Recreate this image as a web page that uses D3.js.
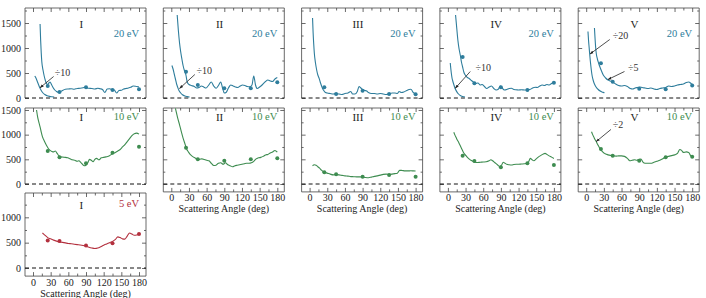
<!DOCTYPE html>
<html><head><meta charset="utf-8">
<script src="https://cdn.jsdelivr.net/npm/d3@7"></script>
<style>
body{margin:0;background:#fff}
svg{display:block}
</style>
</head><body>
<svg id="c" width="706" height="298"></svg>
<script>
// ---------------- DATA (angle in deg, cross section) ----------------
const xTickLabels = [0,30,60,90,120,150,180];
const xMinorTicks = [15,45,75,105,135,165];
const yTickLabels = [0,500,1000,1500];
const yMinorTicks = [250,750,1250,1750];

// 20 eV
const I20_curve = [[12,1480],[13,1150],[14,900],[15,720],[17,560],[19,440],[21,350],[23,290],[25,270],[27,300],[29,320],[31,280],[34,210],[37,160],[40,130],[43,115],[46,120],[50,150],[55,175],[60,180],[65,185],[70,175],[75,190],[80,195],[85,205],[88,215],[91,200],[95,195],[100,190],[105,180],[110,195],[114,185],[118,170],[122,110],[126,180],[130,185],[134,170],[138,160],[142,100],[146,150],[150,155],[154,180],[158,190],[162,200],[166,215],[170,240],[174,235],[178,225],[180,220]];
const I20_div10 = [[3,440],[5,400],[7,340],[9,280],[11,220],[13,170],[15,130],[17,100],[20,70],[24,45],[28,32],[32,25],[36,20]];
const I20_pts = [[25,240],[45,120],[90,213],[135,160],[180,173]];

const II20_curve = [[10,1660],[12,1350],[14,1100],[16,920],[18,780],[20,650],[22,560],[24,500],[25,450],[27,320],[30,270],[34,250],[39,230],[43,200],[47,210],[51,240],[55,220],[59,200],[63,250],[68,320],[72,240],[76,195],[80,250],[84,320],[87,200],[90,100],[93,110],[97,200],[101,260],[105,240],[109,220],[113,210],[117,240],[121,260],[125,250],[129,230],[133,225],[137,260],[140,440],[143,260],[146,190],[150,220],[155,270],[160,330],[164,360],[168,340],[172,330],[176,380],[180,410]];
const II20_div10 = [[1,650],[3,580],[5,480],[7,380],[9,280],[11,210],[13,150],[16,100],[19,65],[23,40],[27,28],[31,20]];
const II20_pts = [[25,527],[45,260],[90,193],[135,193],[180,313]];

const III20_curve = [[5,1600],[6,1300],[7,1080],[8,900],[10,700],[12,560],[14,460],[16,400],[18,320],[20,250],[22,190],[24,150],[27,110],[30,100],[35,90],[40,80],[45,85],[50,80],[55,70],[60,90],[65,100],[70,130],[73,80],[77,80],[81,130],[84,230],[87,200],[91,160],[94,150],[97,140],[100,110],[105,90],[110,90],[115,80],[120,90],[125,80],[130,70],[135,80],[140,100],[145,100],[149,90],[152,130],[156,110],[160,120],[165,150],[169,170],[172,175],[176,110],[180,80]];
const III20_pts = [[25,213],[45,80],[90,147],[135,80],[180,73]];

const IV20_curve = [[13,1660],[15,1400],[17,1150],[19,980],[21,860],[23,720],[25,620],[27,520],[30,450],[33,410],[36,390],[40,350],[43,320],[47,290],[51,300],[55,260],[58,270],[62,230],[66,190],[70,220],[74,240],[78,190],[82,160],[86,180],[89,240],[92,200],[96,160],[100,170],[104,190],[108,195],[112,170],[116,165],[120,160],[125,165],[130,160],[135,160],[140,175],[144,200],[148,215],[152,210],[156,240],[160,260],[164,250],[168,270],[172,260],[176,290],[180,310]];
const IV20_div10 = [[4,700],[5,580],[6,480],[7,400],[8,350],[10,270],[12,200],[15,127],[18,80],[21,50],[25,30],[29,20]];
const IV20_pts = [[25,820],[45,293],[90,213],[135,160],[180,307]];

const V20_div5 = [[14,1400],[15,1200],[16,1020],[17,900],[19,780],[21,700],[23,630],[26,540],[29,460],[33,400],[37,360],[41,340],[45,320],[50,280],[55,250],[60,240],[65,250],[70,230],[75,190],[79,180],[83,200],[87,210],[91,220],[95,210],[100,200],[105,190],[110,200],[115,180],[120,170],[125,190],[130,200],[135,210],[140,240],[145,230],[150,240],[155,260],[160,270],[165,280],[170,310],[174,320],[178,290],[180,270]];
const V20_div20 = [[3,1330],[4,1150],[5,1010],[6,870],[7,740],[8,630],[9,530],[10,450],[11.5,370],[13,310],[15,255],[17,215],[20,175],[23,145],[26,127],[29,113],[31,107]];
const V20_pts = [[25,693],[45,327],[90,187],[135,173],[180,250]];

// 10 eV
const I10_curve = [[6,1500],[8,1350],[10,1250],[12,1160],[14,1050],[16,960],[18,900],[20,850],[23,780],[26,720],[29,680],[32,660],[35,650],[38,670],[41,620],[44,570],[47,550],[51,545],[55,540],[59,530],[63,510],[67,490],[71,480],[75,460],[78,470],[81,440],[84,400],[87,370],[90,380],[93,430],[96,500],[99,480],[102,450],[105,500],[108,520],[112,490],[116,530],[120,540],[124,550],[128,560],[132,590],[136,620],[140,640],[144,670],[148,700],[152,750],[156,800],[160,860],[164,920],[168,980],[172,1020],[176,1030],[180,1010]];
const I10_pts = [[25,670],[45,540],[90,420],[135,635],[180,756]];

const II10_curve = [[7,1530],[9,1430],[11,1330],[14,1200],[17,1060],[20,930],[23,820],[26,710],[29,650],[32,600],[36,560],[40,530],[44,505],[48,500],[52,510],[56,495],[60,480],[64,470],[68,420],[72,375],[76,380],[80,420],[84,430],[88,400],[92,430],[96,390],[100,370],[104,350],[108,370],[112,380],[116,390],[120,400],[124,410],[128,420],[132,420],[136,430],[140,460],[144,510],[148,530],[152,540],[156,560],[160,590],[164,600],[168,630],[172,650],[176,680],[180,645]];
const II10_pts = [[25,736],[45,500],[90,473],[135,500],[180,520]];

const III10_curve = [[5,370],[8,390],[11,380],[14,350],[17,320],[20,280],[23,255],[26,235],[30,220],[35,200],[40,185],[45,190],[50,185],[55,175],[60,165],[65,160],[70,150],[75,148],[80,145],[85,145],[90,140],[95,132],[100,128],[105,140],[110,155],[115,165],[120,180],[125,195],[130,200],[135,195],[140,200],[145,210],[149,220],[151,250],[153,280],[157,275],[162,265],[167,265],[172,268],[176,265],[180,262]];
const III10_pts = [[25,237],[45,196],[90,149],[135,180],[180,149]];

const IV10_curve = [[10,1050],[12,990],[14,940],[16,890],[18,850],[20,800],[22,750],[24,700],[26,650],[28,610],[31,570],[34,530],[37,500],[40,475],[43,455],[46,440],[50,435],[55,440],[60,445],[65,450],[70,470],[73,490],[76,470],[80,430],[84,390],[88,355],[91,380],[94,440],[97,420],[100,400],[104,390],[108,385],[112,395],[116,400],[120,400],[125,405],[130,410],[134,420],[137,450],[140,520],[143,490],[146,470],[150,510],[154,550],[158,580],[162,610],[165,620],[168,600],[172,570],[176,545],[180,515]];
const IV10_pts = [[25,574],[45,466],[90,338],[135,419],[180,385]];

const V10_div2 = [[9,1060],[11,1000],[13,950],[15,900],[17,860],[19,810],[21,770],[23,725],[25,690],[28,650],[31,620],[35,600],[39,585],[43,575],[47,570],[51,565],[55,570],[60,570],[65,560],[70,520],[74,470],[78,480],[82,490],[86,480],[90,500],[93,505],[96,450],[100,420],[105,420],[110,420],[115,440],[120,460],[125,480],[130,510],[135,550],[140,560],[145,575],[150,590],[155,620],[159,700],[162,680],[165,640],[170,650],[174,640],[177,580],[180,550]];
const V10_pts = [[25,709],[45,574],[90,473],[135,541],[180,554]];

// 5 eV
const I5_curve = [[16,690],[20,650],[25,600],[30,575],[35,550],[40,530],[45,515],[50,505],[55,495],[60,485],[65,478],[70,470],[75,462],[80,455],[85,445],[90,430],[95,410],[100,395],[105,385],[110,395],[115,420],[120,450],[125,475],[130,500],[135,525],[140,565],[144,615],[148,600],[152,575],[156,570],[160,630],[164,690],[168,670],[172,645],[176,650],[180,670]];
const I5_pts = [[25,541],[45,535],[90,442],[135,489],[180,673]];

// ---------------- LAYOUT / STYLE ----------------
const FONT = '"Liberation Serif", "Times New Roman", Times, "Nimbus Roman", "DejaVu Serif", serif';
const colors = {"20":"#2e7d9c","10":"#3e8c50","5":"#b3303e"};
const colX0 = [33, 171.3, 309.6, 447.9, 586.2];
const SPAN = 106;
const rowCfg = [
  {dom:[0,1800], rng:[98,8]},
  {dom:[0,1540], rng:[184,108]},
  {dom:[0,1480], rng:[268,193]}
];
const rowText = [
  {num:28, en:37},
  {num:120.5, en:119.5},
  {num:209, en:206.5}
];

const panels = [
  {row:0,col:0,num:"I",  en:"20", curves:[I20_curve,I20_div10], pts:I20_pts,
   ann:[{t:"÷10",tx:37,ty:450,x1:35,y1:430,x2:12,y2:205}]},
  {row:0,col:1,num:"II", en:"20", curves:[II20_curve,II20_div10], pts:II20_pts,
   ann:[{t:"÷10",tx:43,ty:490,x1:40,y1:470,x2:14,y2:190}]},
  {row:0,col:2,num:"III",en:"20", curves:[III20_curve], pts:III20_pts, ann:[]},
  {row:0,col:3,num:"IV", en:"20", curves:[IV20_curve,IV20_div10], pts:IV20_pts,
   ann:[{t:"÷10",tx:47,ty:550,x1:38,y1:530,x2:12.5,y2:195}]},
  {row:0,col:4,num:"V",  en:"20", curves:[V20_div5,V20_div20], pts:V20_pts,
   ann:[{t:"÷20",tx:45,ty:1190,x1:40,y1:1170,x2:6.5,y2:880},
        {t:"÷5",tx:71,ty:550,x1:65,y1:530,x2:37,y2:370}]},
  {row:1,col:0,num:"I",  en:"10", curves:[I10_curve], pts:I10_pts, ann:[]},
  {row:1,col:1,num:"II", en:"10", curves:[II10_curve], pts:II10_pts, ann:[], bottom:true},
  {row:1,col:2,num:"III",en:"10", curves:[III10_curve], pts:III10_pts, ann:[], bottom:true},
  {row:1,col:3,num:"IV", en:"10", curves:[IV10_curve], pts:IV10_pts, ann:[], bottom:true},
  {row:1,col:4,num:"V",  en:"10", curves:[V10_div2], pts:V10_pts,
   ann:[{t:"÷2",tx:45,ty:1125,x1:42,y1:1105,x2:17,y2:860}], bottom:true},
  {row:2,col:0,num:"I",  en:"5", curves:[I5_curve], pts:I5_pts, ann:[], bottom:true}
];

const svg = d3.select("#c").attr("font-family", FONT).style("font-family", FONT);
const defs = svg.append("defs");
defs.append("marker").attr("id","arr").attr("viewBox","0 0 10 10")
  .attr("refX",9).attr("refY",5).attr("markerWidth",5).attr("markerHeight",5)
  .attr("orient","auto")
  .append("path").attr("d","M0,1.5L10,5L0,8.5Z").attr("fill","#222");

function txt(sel, size){
  return sel.attr("font-family", FONT).style("font-family", FONT).style("font-size", size+"px");
}
function styleAxis(sel){
  sel.attr("font-family", FONT);
  sel.select(".domain").remove();
  sel.selectAll(".tick line").attr("stroke","#444").attr("stroke-width",0.8);
  txt(sel.selectAll(".tick text").attr("fill","#222"), 10);
}

panels.forEach(p => {
  const x = d3.scaleLinear().domain([0,180]).range([colX0[p.col], colX0[p.col]+SPAN]);
  const y = d3.scaleLinear().domain(rowCfg[p.row].dom).range(rowCfg[p.row].rng);
  const L = x(0)-8, R = x(180)+7;
  const top = y(rowCfg[p.row].dom[1]);
  const bot = p.bottom ? y(-160) : y(0);
  const col = colors[p.en];
  const g = svg.append("g");

  // ticks (inward)
  const yMaj = yTickLabels.filter(v => v <= rowCfg[p.row].dom[1]);
  const yMin = yMinorTicks.filter(v => v <= rowCfg[p.row].dom[1]);
  styleAxis(g.append("g").attr("transform",`translate(${L},0)`)
    .call(d3.axisLeft(y).tickValues(yMaj).tickSize(-4).tickPadding(4)
      .tickFormat(p.col===0 ? d3.format("d") : "")));
  styleAxis(g.append("g").attr("transform",`translate(${L},0)`)
    .call(d3.axisLeft(y).tickValues(yMin).tickSize(-2).tickFormat("")));
  styleAxis(g.append("g").attr("transform",`translate(${R},0)`)
    .call(d3.axisRight(y).tickValues(yMaj).tickSize(-4).tickFormat("")));
  styleAxis(g.append("g").attr("transform",`translate(${R},0)`)
    .call(d3.axisRight(y).tickValues(yMin).tickSize(-2).tickFormat("")));
  styleAxis(g.append("g").attr("transform",`translate(0,${top})`)
    .call(d3.axisTop(x).tickValues(xTickLabels).tickSize(-4).tickFormat("")));
  styleAxis(g.append("g").attr("transform",`translate(0,${top})`)
    .call(d3.axisTop(x).tickValues(xMinorTicks).tickSize(-2.5).tickFormat("")));
  if (p.bottom){
    styleAxis(g.append("g").attr("transform",`translate(0,${bot})`)
      .call(d3.axisBottom(x).tickValues(xTickLabels).tickSize(-4).tickPadding(2.5).tickFormat(d3.format("d"))));
    styleAxis(g.append("g").attr("transform",`translate(0,${bot})`)
      .call(d3.axisBottom(x).tickValues(xMinorTicks).tickSize(-2.5).tickFormat("")));
    txt(g.append("text").attr("x",(L+R)/2).attr("y",bot+20.6).attr("text-anchor","middle")
      .attr("fill","#222"), 10).text("Scattering Angle (deg)");
  }

  // frame
  g.append("path")
    .attr("d", p.bottom ? `M${L},${top}H${R}V${bot}H${L}Z` : `M${L},${y(0)}V${top}H${R}V${y(0)}`)
    .attr("fill","none").attr("stroke","#444").attr("stroke-width",0.8);

  // zero dashed line
  g.append("line").attr("x1",L).attr("x2",R).attr("y1",y(0)).attr("y2",y(0))
    .attr("stroke","#111").attr("stroke-width",1).attr("stroke-dasharray","4,3");

  // curves
  const line = d3.line().x(d=>x(d[0])).y(d=>y(d[1])).curve(d3.curveMonotoneX);
  p.curves.forEach(c => {
    g.append("path").attr("d",line(c)).attr("fill","none")
      .attr("stroke",col).attr("stroke-width",1.1);
  });
  g.selectAll("circle.pt").data(p.pts).enter().append("circle")
    .attr("cx",d=>x(d[0])).attr("cy",d=>y(d[1])).attr("r",2).attr("fill",col);

  // annotations
  p.ann.forEach(a => {
    g.append("line").attr("x1",x(a.x1)).attr("y1",y(a.y1)).attr("x2",x(a.x2)).attr("y2",y(a.y2))
      .attr("stroke","#222").attr("stroke-width",0.8).attr("marker-end","url(#arr)");
    txt(g.append("text").attr("x",x(a.tx)).attr("y",y(a.ty)).attr("fill","#333"), 10).text(a.t);
  });

  // labels
  txt(g.append("text").attr("x",x(82)).attr("y",rowText[p.row].num).attr("text-anchor","middle")
    .attr("fill","#222"), 11).text(p.num);
  txt(g.append("text").attr("x",R-7).attr("y",rowText[p.row].en).attr("text-anchor","end")
    .attr("fill",col), 10.5).text(p.en + " eV");
});
</script>
</body></html>
